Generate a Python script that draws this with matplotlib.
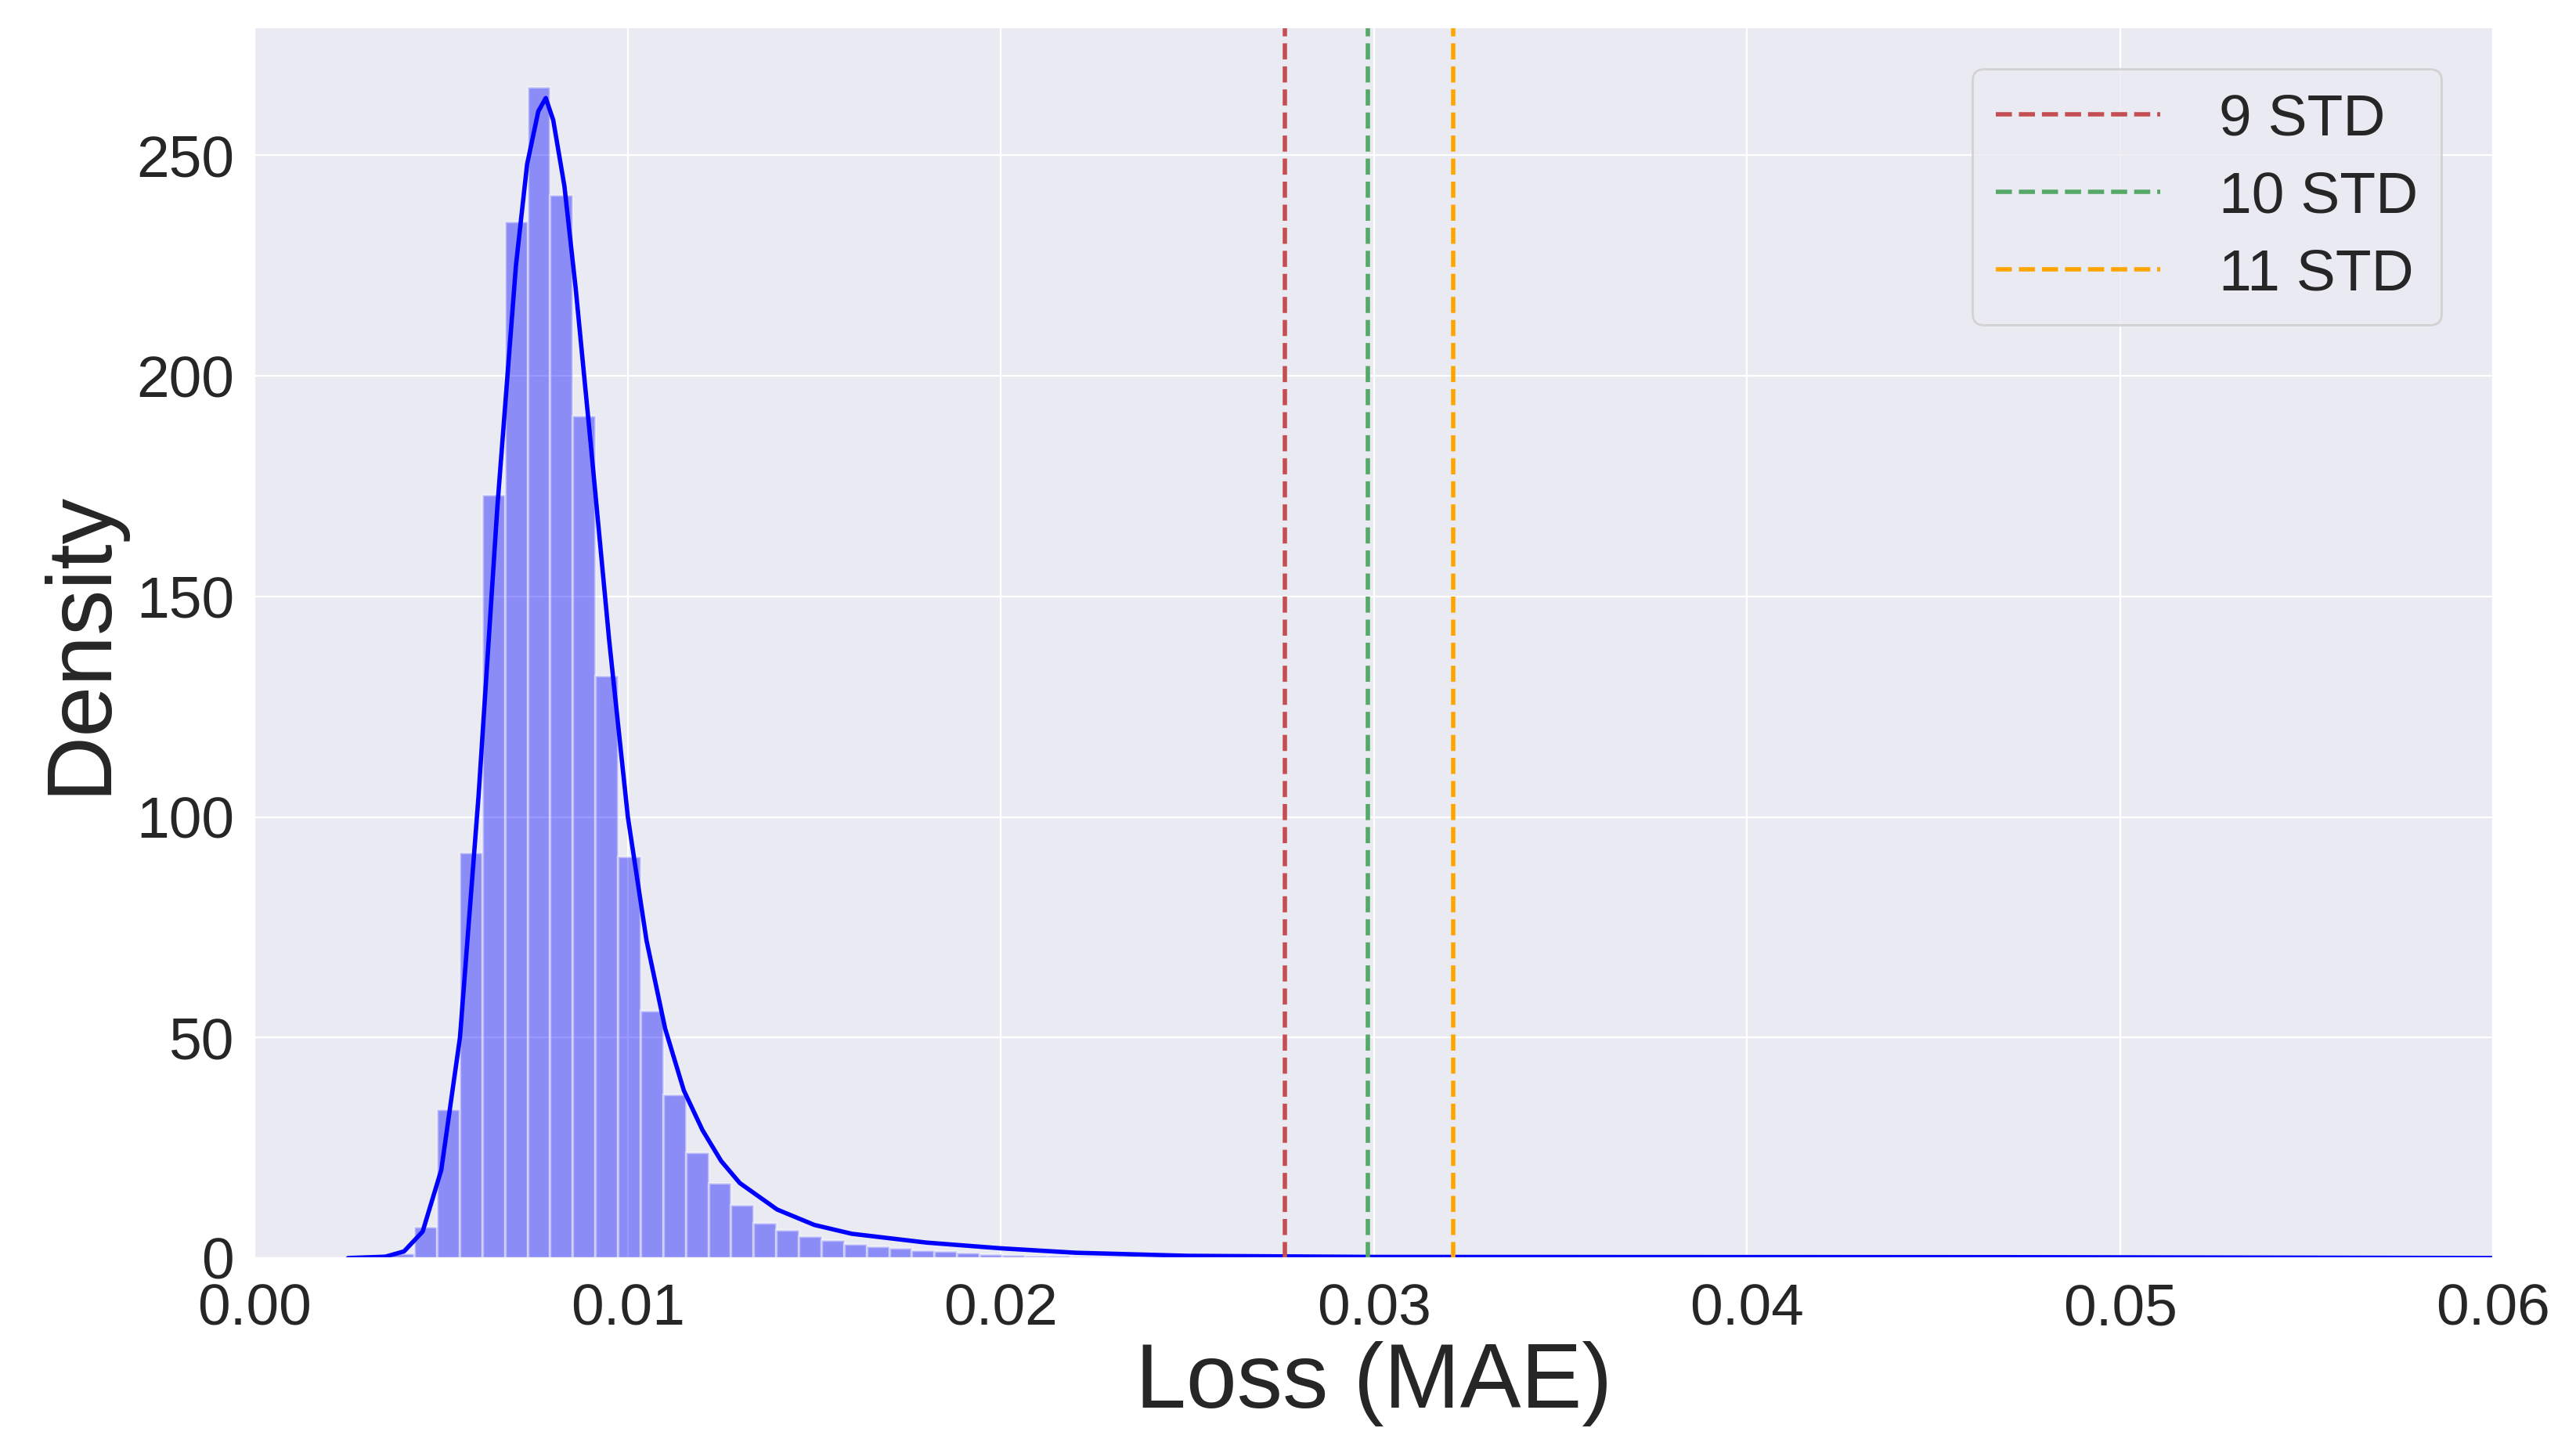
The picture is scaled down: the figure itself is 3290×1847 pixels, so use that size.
import matplotlib
matplotlib.use("Agg")
import matplotlib.pyplot as plt
import seaborn as sns
import numpy as np

sns.set_style("darkgrid")
plt.rcParams['font.family'] = ['Arial', 'Liberation Sans', 'DejaVu Sans']

bin_start = 0.00367
bin_width = 0.000606
bar_heights = [1, 7, 33.7, 92, 173, 235, 265.5, 241, 191, 132, 91, 56, 37, 24, 17, 12, 8,
               6.3, 5, 4, 3.2, 2.6, 2.2, 1.8, 1.5, 1.2, 0.9, 0.7, 0.6, 0.5, 0.4, 0.35, 0.3]

kde_x = [0.0025, 0.0035, 0.0040, 0.0045, 0.0050, 0.0055, 0.0060, 0.0065, 0.0070, 0.0073,
         0.0076, 0.0078, 0.0080, 0.0083, 0.0086, 0.0090, 0.0095, 0.0100, 0.0105, 0.0110,
         0.0115, 0.0120, 0.0125, 0.0130, 0.0140, 0.0150, 0.0160, 0.0180, 0.0200, 0.0220,
         0.0250, 0.0300, 0.0470, 0.0600]
kde_y = [0, 0.3, 1.5, 6, 20, 50, 105, 170, 225, 248, 260, 263, 258, 243, 220, 185, 140, 100,
         72, 52, 38, 29, 22, 17, 11, 7.5, 5.5, 3.5, 2.2, 1.2, 0.5, 0.25, 0.2, 0]

std_labels = ["9 STD", "10 STD", "11 STD"]
std_values = [0.0276, 0.02984, 0.03213]
std_colors = ["#C44E52", "#55A868", "orange"]

fig = plt.figure(figsize=(16.45, 9.235), dpi=200)
ax = fig.add_axes([0.0989, 0.130, 0.869, 0.851])
lefts = [bin_start + i * bin_width for i in range(len(bar_heights))]
ax.bar(lefts, bar_heights, width=bin_width, align='edge', color='blue', alpha=0.4,
       edgecolor='white', linewidth=1.2)
ax.plot(kde_x, kde_y, color='blue', lw=2)
for lab, v, c in zip(std_labels, std_values, std_colors):
    ax.axvline(v, color=c, ls='--', lw=2, label=lab)
ax.set_xlim(0, 0.06)
ax.set_ylim(0, 279)
ax.set_xticks([0, 0.01, 0.02, 0.03, 0.04, 0.05, 0.06])
ax.set_xticklabels(["0.00", "0.01", "0.02", "0.03", "0.04", "0.05", "0.06"])
ax.set_yticks([0, 50, 100, 150, 200, 250])
ax.tick_params(axis='both', labelsize=27)
ax.tick_params(axis='x', pad=8)
ax.tick_params(axis='y', pad=6)
ax.set_xlabel("Loss (MAE)", fontsize=42, labelpad=2)
ax.set_ylabel("Density", fontsize=42, labelpad=6)
leg = ax.legend(fontsize=27, loc='upper right', handlelength=2.8, handletextpad=1.0,
                borderpad=0.4, labelspacing=0.4, bbox_to_anchor=(0.99, 0.99))
fig.savefig("out.png", dpi=200)
